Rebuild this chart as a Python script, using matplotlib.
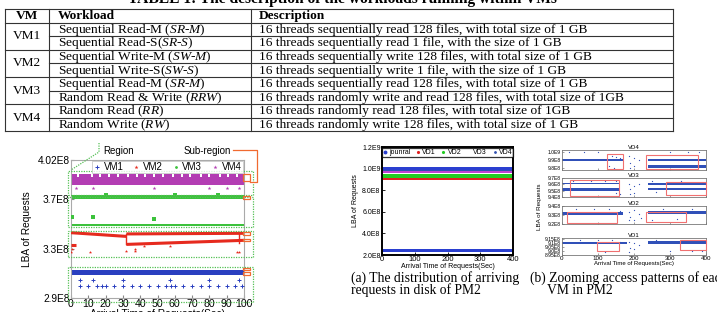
import matplotlib
matplotlib.use("Agg")
import matplotlib.pyplot as plt
from matplotlib.patches import Rectangle
from matplotlib.lines import Line2D

W, H = 717, 312

plt.rcParams['mathtext.fontset'] = 'custom'
plt.rcParams['mathtext.rm'] = 'Liberation Serif'
plt.rcParams['mathtext.it'] = 'Liberation Serif:italic'

# ---------------- table contents ----------------
table_title = "TABLE 1: The description of the workloads running within VMs"
table_header = ["VM", "Workload", "Description"]
vm_names = ["VM1", "VM2", "VM3", "VM4"]
workloads = [
    r"Sequential Read-M ($\mathit{SR}$-$\mathit{M}$)",
    r"Sequential Read-S($\mathit{SR}$-$\mathit{S}$)",
    r"Sequential Write-M ($\mathit{SW}$-$\mathit{M}$)",
    r"Sequential Write-S($\mathit{SW}$-$\mathit{S}$)",
    r"Sequential Read-M ($\mathit{SR}$-$\mathit{M}$)",
    r"Random Read & Write ($\mathit{RRW}$)",
    r"Random Read ($\mathit{RR}$)",
    r"Random Write ($\mathit{RW}$)",
]
descriptions = [
    "16 threads sequentially read 128 files, with total size of 1 GB",
    "16 threads sequentially read 1 file, with the size of 1 GB",
    "16 threads sequentially write 128 files, with total size of 1 GB",
    "16 threads sequentially write 1 file, with the size of 1 GB",
    "16 threads sequentially read 128 files, with total size of 1 GB",
    "16 threads randomly write and read 128 files, with total size of 1GB",
    "16 threads randomly read 128 files, with total size of 1GB",
    "16 threads randomly write 128 files, with total size of 1 GB",
]

# ---------------- left chart: LBA of 4 VMs ----------------
left_yticks = [2.9e8, 3.3e8, 3.7e8, 4.02e8]
left_yticklabels = ["2.9E8", "3.3E8", "3.7E8", "4.02E8"]
vm4_band = (0, 100, 3.817e8, 3.906e8)
vm4_notch_x = [4, 12, 17, 22, 27, 33, 38, 43, 48, 53, 59, 64, 69, 75, 80, 86, 91, 96]
vm4_sparse_x = [3, 13, 48, 80, 90, 97]
vm4_sparse_y = [3.795e8, 3.795e8, 3.795e8, 3.795e8, 3.795e8, 3.795e8]
vm3_bands = [(0, 100, 3.700e8, 3.733e8), (0, 100, 3.485e8, 3.502e8)]
vm3_sparse_x = [0.5, 13, 48, 20, 60, 85]
vm3_sparse_y = [3.555e8, 3.555e8, 3.54e8, 3.74e8, 3.74e8, 3.74e8]
vm2_lines = [([0, 32], [3.43e8, 3.40e8]), ([32, 100], [3.42e8, 3.425e8]),
             ([0, 3], [3.33e8, 3.33e8]), ([32, 100], [3.335e8, 3.368e8])]
vm2_sparse_x = [0, 0.5, 11, 32, 37, 37, 96, 97, 57, 42]
vm2_sparse_y = [3.27e8, 3.30e8, 3.27e8, 3.285e8, 3.285e8, 3.30e8, 3.27e8, 3.27e8, 3.32e8, 3.32e8]
vm1_band = (0, 100, 3.087e8, 3.130e8)
vm1_sparse_x = [5, 13, 30, 57, 80, 97, 5, 10, 15, 18, 20, 25, 30, 35, 40, 45, 50,
                55, 58, 60, 65, 70, 75, 80, 85, 90, 95, 99]
vm1_sparse_y = [3.047e8] * 6 + [3.0e8] * 22
regions = [(3.736e8, 3.931e8), (3.476e8, 3.72e8), (3.235e8, 3.44e8), (2.87e8, 3.149e8)]
subregions = [(3.85e8, 3.905e8), (3.70e8, 3.725e8), (3.415e8, 3.435e8),
              (3.36e8, 3.38e8), (3.125e8, 3.145e8), (3.09e8, 3.115e8)]

# ---------------- middle chart: whole disk of PM2 ----------------
mid_yticks = [2e8, 4e8, 6e8, 8e8, 1.0e9, 1.2e9]
mid_yticklabels = ["2.0E8", "4.0E8", "6.0E8", "8.0E8", "1.0E9", "1.2E9"]
mid_xticks = [0, 100, 200, 300, 400]
mid_series = ["jounral", "VD1", "VD2", "VD3", "VD4"]
mid_colors = ["#2a3fd0", "#e02020", "#22cc22", "#c040d0", "#3050b0"]
mid_bands = {
    "VD1": [(0, 400, 0.892e9, 0.922e9)],
    "VD2": [(0, 400, 0.916e9, 0.950e9)],
    "VD3": [(0, 400, 0.955e9, 0.980e9)],
    "VD4": [(0, 400, 0.975e9, 0.995e9)],
    "jounral": [(0, 400, 0.985e9, 1.014e9), (0, 400, 0.229e9, 0.255e9)],
}

# ---------------- right chart: zoom of each VD ----------------
vd_names = ["VD4", "VD3", "VD2", "VD1"]
vd_ylims = [(9.775e8, 1.0025e9), (9.40e8, 9.70e8), (9.20e8, 9.40e8), (8.95e8, 9.165e8)]
vd_yticks = [[9.8e8, 9.9e8, 1.0e9], [9.4e8, 9.5e8, 9.6e8, 9.7e8],
             [9.2e8, 9.3e8, 9.4e8], [8.95e8, 9.0e8, 9.05e8, 9.1e8, 9.15e8]]
vd_yticklabels = [["9.8E8", "9.9E8", "1.0E9"], ["9.4E8", "9.5E8", "9.6E8", "9.7E8"],
                  ["9.2E8", "9.3E8", "9.4E8"], ["8.95E8", "9.0E8", "9.05E8", "9.1E8", "9.15E8"]]
vd_bands = [
    [(0, 170, 9.885e8, 9.91e8), (240, 400, 9.885e8, 9.915e8), (240, 400, 9.805e8, 9.835e8)],
    [(0, 160, 9.60e8, 9.625e8), (0, 160, 9.50e8, 9.54e8), (240, 400, 9.595e8, 9.625e8),
     (240, 400, 9.51e8, 9.545e8)],
    [(0, 170, 9.30e8, 9.33e8), (240, 400, 9.31e8, 9.345e8)],
    [(0, 180, 9.085e8, 9.11e8), (240, 400, 9.095e8, 9.13e8)],
]
vd_sparse_x = [
    [20, 60, 100, 140, 150, 160, 185, 190, 200, 215, 300, 350, 380, 130, 145, 190, 200],
    [30, 80, 120, 150, 185, 190, 200, 215, 250, 330, 150, 160, 190, 200, 260],
    [40, 90, 130, 160, 185, 190, 200, 215, 220, 280, 360, 185, 200, 250, 320],
    [50, 100, 140, 160, 185, 190, 200, 215, 300, 360, 120, 185, 200, 260, 390],
]
vd_sparse_y = [
    [1.0e9, 1.0e9, 1.0e9, 9.95e8, 9.94e8, 9.93e8, 9.95e8, 9.86e8, 9.93e8, 9.9e8, 1.0e9, 1.0e9, 1.0e9, 9.82e8, 9.8e8, 9.8e8, 9.83e8],
    [9.66e8, 9.66e8, 9.66e8, 9.65e8, 9.6e8, 9.52e8, 9.57e8, 9.6e8, 9.66e8, 9.66e8, 9.46e8, 9.45e8, 9.45e8, 9.46e8, 9.48e8],
    [9.37e8, 9.37e8, 9.37e8, 9.35e8, 9.33e8, 9.28e8, 9.36e8, 9.31e8, 9.27e8, 9.37e8, 9.37e8, 9.24e8, 9.25e8, 9.25e8, 9.26e8],
    [9.14e8, 9.14e8, 9.14e8, 9.12e8, 9.11e8, 9.04e8, 9.1e8, 9.08e8, 9.0e8, 9.0e8, 8.99e8, 8.99e8, 9.02e8, 9.14e8, 9.0e8],
]
vd_boxes = [
    [(125, 170, 9.79e8, 9.97e8), (233, 378, 9.79e8, 9.965e8)],
    [(22, 158, 9.42e8, 9.665e8), (289, 400, 9.435e8, 9.635e8)],
    [(14, 153, 9.215e8, 9.33e8), (233, 344, 9.225e8, 9.33e8)],
    [(97, 158, 9.0e8, 9.12e8), (328, 400, 9.01e8, 9.14e8)],
]

BLUE = "#2a3fc0"
RED = "#e62a1e"
GREEN = "#3cc23c"
MAGENTA = "#b33db3"
SANS = "Liberation Sans"
SERIF = "Liberation Serif"
TFS = 9.6


def px_axes(fig, x0, y0, x1, y1):
    return fig.add_axes([x0 / W, 1 - y1 / H, (x1 - x0) / W, (y1 - y0) / H])


def draw_band(ax, band, color, z=2):
    x0, x1, lo, hi = band
    ax.fill_between([x0, x1], [lo, lo], [hi, hi], color=color, lw=0, zorder=z)


fig = plt.figure(figsize=(W / 100, H / 100), dpi=100)

# ================= left chart =================
axl = px_axes(fig, 71, 160, 244, 298)
axl.set_xlim(0, 100)
axl.set_ylim(2.9e8, 4.02e8)
draw_band(axl, vm4_band, MAGENTA)
for nx in vm4_notch_x:
    axl.fill_between([nx - 0.6, nx + 0.6], [vm4_band[3] - 0.02e8] * 2, [vm4_band[3]] * 2,
                     color="white", lw=0, zorder=2.5)
axl.scatter(vm4_sparse_x, vm4_sparse_y, marker="*", s=8, color=MAGENTA, lw=0, zorder=3)
for b in vm3_bands:
    draw_band(axl, b, GREEN)
axl.scatter(vm3_sparse_x, vm3_sparse_y, marker="s", s=5, color=GREEN, lw=0, zorder=3)
for xs, ys in vm2_lines:
    axl.plot(xs, ys, color=RED, lw=2.2, solid_capstyle="butt", zorder=3)
axl.plot([32, 32], [3.335e8, 3.42e8], color=RED, lw=1, zorder=3)
axl.plot([97, 97], [3.345e8, 3.42e8], color=RED, lw=1, zorder=3)
axl.scatter(vm2_sparse_x, vm2_sparse_y, marker="*", s=6, color=RED, lw=0, zorder=3)
draw_band(axl, vm1_band, BLUE)
axl.scatter(vm1_sparse_x, vm1_sparse_y, marker="+", s=8, color=BLUE, lw=0.7, zorder=3)

for lo, hi in regions:
    axl.add_patch(Rectangle((-1.7, lo), 106.9, hi - lo, fill=False, ec="#55c055",
                            lw=0.9, ls=(0, (1, 1)), clip_on=False, zorder=5))
for lo, hi in subregions:
    axl.add_patch(Rectangle((99.4, lo), 4.0, hi - lo, fill=False, ec="#f06a30",
                            lw=0.9, clip_on=False, zorder=6))

axl.set_yticks(left_yticks)
axl.set_yticklabels(left_yticklabels, fontsize=7.3, family=SANS)
axl.set_xticks(range(0, 101, 10))
axl.set_xticklabels([str(v) for v in range(0, 101, 10)], fontsize=7.6, family=SANS)
axl.tick_params(direction="in", length=2, pad=1, color="#888888")
for s in axl.spines.values():
    s.set_color("#aaaaaa")
    s.set_linewidth(0.8)
axl.set_ylabel("LBA of Requests", fontsize=7.3, family=SANS, labelpad=4)
axl.set_xlabel("Arrival Time of Requests(Sec)", fontsize=7.3, family=SANS, labelpad=0)

lh = [Line2D([], [], ls="none", marker="+", color=BLUE, ms=3, mew=0.7),
      Line2D([], [], ls="none", marker="*", color=RED, ms=3, mew=0),
      Line2D([], [], ls="none", marker=".", color=GREEN, ms=2),
      Line2D([], [], ls="none", marker="*", color=MAGENTA, ms=3, mew=0)]
leg = axl.legend(lh, vm_names, loc="upper right", ncol=4, prop={"family": SANS, "size": 7},
                 frameon=True, fancybox=False, edgecolor="#bbbbbb", borderpad=0.1,
                 handlelength=0.8, handletextpad=0.3, columnspacing=0.9,
                 borderaxespad=0.15)
leg.get_frame().set_linewidth(0.6)
leg.set_zorder(7)

# ================= middle chart =================
axm = px_axes(fig, 382, 147, 513, 255)
axm.set_xlim(0, 400)
axm.set_ylim(2e8, 1.2e9)
for name, col in zip(["VD1", "VD2", "VD3", "VD4", "jounral"],
                     [mid_colors[1], mid_colors[2], mid_colors[3], mid_colors[4], mid_colors[0]]):
    for b in mid_bands[name]:
        draw_band(axm, b, col)
axm.set_yticks(mid_yticks)
axm.set_yticklabels(mid_yticklabels, fontsize=5, family=SANS)
axm.set_xticks(mid_xticks)
axm.set_xticklabels([str(v) for v in mid_xticks], fontsize=5.5, family=SANS)
axm.tick_params(direction="in", length=2, pad=1, width=0.6)
for s in axm.spines.values():
    s.set_linewidth(1.4)
axm.set_ylabel("LBA of Requests", fontsize=5, family=SANS, labelpad=2)
axm.set_xlabel("Arrival Time of Requests(Sec)", fontsize=5, family=SANS, labelpad=0)
mh = [Line2D([], [], ls="none", marker="o", color=mid_colors[0], ms=1.8),
      Line2D([], [], ls="none", marker=".", color=mid_colors[1], ms=2.5),
      Line2D([], [], ls="none", marker=".", color=mid_colors[2], ms=2.5),
      Line2D([], [], ls="none", marker=".", color="white", ms=2.5),
      Line2D([], [], ls="none", marker=".", color=mid_colors[4], ms=2)]
legm = axm.legend(mh, mid_series, loc="upper center", ncol=5, prop={"family": SANS, "size": 5},
                  frameon=True, fancybox=False, edgecolor="black", borderpad=0.15,
                  handlelength=0.6, handletextpad=0.3, columnspacing=0.8, borderaxespad=0.2)
legm.get_frame().set_linewidth(0.9)

# ================= right chart =================
vd_px = [(150, 170), (178, 197), (206, 224), (238, 255)]
for i, name in enumerate(vd_names):
    y0, y1 = vd_px[i]
    ax = px_axes(fig, 562, y0, 706, y1)
    ax.set_xlim(0, 400)
    ax.set_ylim(*vd_ylims[i])
    for b in vd_bands[i]:
        draw_band(ax, b, "#3050b8")
    ax.scatter(vd_sparse_x[i], vd_sparse_y[i], s=0.8, color="#3050b8", lw=0, zorder=3)
    for x0, x1, lo, hi in vd_boxes[i]:
        ax.add_patch(Rectangle((x0, lo), x1 - x0, hi - lo, fill=False, ec="#f07070", lw=0.8,
                               clip_on=False, zorder=4))
    ax.set_yticks(vd_yticks[i])
    ax.set_yticklabels(vd_yticklabels[i], fontsize=3.6, family=SANS)
    ax.set_xticks(mid_xticks)
    if i == 3:
        ax.set_xticklabels([str(v) for v in mid_xticks], fontsize=4.5, family=SANS)
        ax.set_xlabel("Arrival Time of Requests(Sec)", fontsize=4.3, family=SANS, labelpad=0)
    else:
        ax.set_xticklabels([])
    ax.tick_params(direction="in", length=1.5, pad=0.8, width=0.4, color="#555555")
    for s in ax.spines.values():
        s.set_color("#777777")
        s.set_linewidth(0.6)
    ax.set_title(name, fontsize=4.3, family=SANS, pad=1)

# ================= overlay: table, captions, callouts =================
ov = fig.add_axes([0, 0, 1, 1], zorder=10)
ov.set_xlim(0, W)
ov.set_ylim(H, 0)
ov.axis("off")
ov.patch.set_alpha(0)

ov.text(342, -1, table_title, ha="center", va="center", fontsize=11.2,
        family=SERIF, fontweight="bold")
tx0, tx1, tx2, tx3 = 5, 49, 251, 673
top, head = 9, 22.5
rh = 13.6
lc = "#333333"
ov.plot([tx0, tx3], [top, top], color=lc, lw=0.8)
ov.plot([tx0, tx3], [head, head], color=lc, lw=0.8)
ov.text((tx0 + tx1) / 2, (top + head) / 2, table_header[0], ha="center", va="center",
        fontsize=TFS, family=SERIF, fontweight="bold")
ov.text(tx1 + 9, (top + head) / 2, table_header[1], ha="left", va="center",
        fontsize=TFS, family=SERIF, fontweight="bold")
ov.text(tx2 + 8, (top + head) / 2, table_header[2], ha="left", va="center",
        fontsize=TFS, family=SERIF, fontweight="bold")
bottom = head + rh * len(workloads)
for xv in (tx0, tx1, tx2, tx3):
    ov.plot([xv, xv], [top, bottom], color=lc, lw=0.8)
for r in range(len(workloads)):
    yc = head + rh * (r + 0.5)
    yb = head + rh * (r + 1)
    ov.text(tx1 + 9, yc + 0.5, workloads[r], ha="left", va="center", fontsize=TFS, family=SERIF)
    ov.text(tx2 + 8, yc + 0.5, descriptions[r], ha="left", va="center", fontsize=TFS, family=SERIF)
    if r % 2 == 1:
        ov.plot([tx0, tx3], [yb, yb], color=lc, lw=0.8)
        ov.text((tx0 + tx1) / 2, head + rh * r, vm_names[r // 2], ha="center",
                va="center", fontsize=TFS, family=SERIF)
    else:
        ov.plot([tx1, tx3], [yb, yb], color=lc, lw=0.8)

# callouts on left chart
ov.text(103, 151, "Region", ha="left", va="center", fontsize=7, family=SANS)
ov.plot([99, 99, 71], [143, 152, 170], color="#55c055", lw=0.9, ls=(0, (1, 1)))
ov.text(231, 151, "Sub-region", ha="right", va="center", fontsize=7, family=SANS)
ov.plot([233, 257, 257, 250], [150, 150, 182, 182], color="#f06a30", lw=0.9)

# y label shared by the four zoom panels
ov.text(539, 207, "LBA of Requests", ha="center", va="center", rotation=90,
        fontsize=4.5, family=SANS)

# captions
ov.text(351, 278, "(a) The distribution of arriving", ha="left", va="center",
        fontsize=9.8, family=SERIF)
ov.text(351, 290, "requests in disk of PM2", ha="left", va="center", fontsize=9.8, family=SERIF)
ov.text(530, 278, "(b) Zooming access patterns of each", ha="left", va="center",
        fontsize=9.8, family=SERIF)
ov.text(547, 290, "VM in PM2", ha="left", va="center", fontsize=9.8, family=SERIF)

fig.savefig("out.png", dpi=100)
